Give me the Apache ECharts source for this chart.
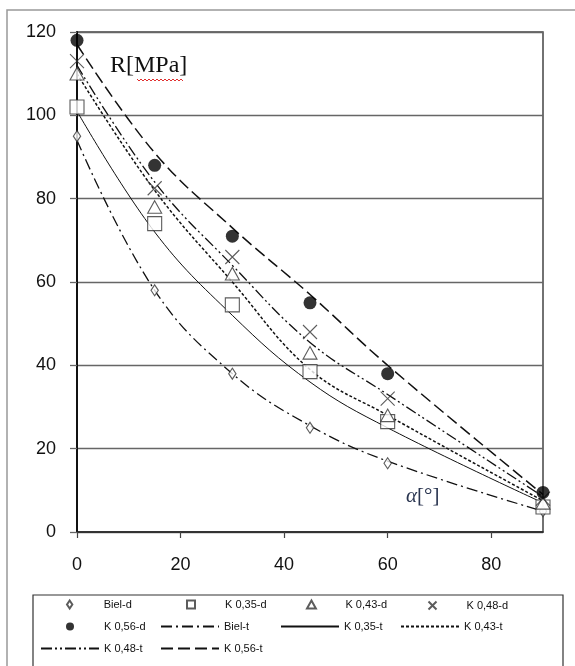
<!DOCTYPE html>
<html>
	<head>
		<meta charset="utf-8">
		<title>R - alpha</title>
		<style type="text/css">
			* {
				margin: 0;
				padding: 0;
			}

			html,
			body {
				width: 100%;
				height: 100%;
				background: #fff;
			}

			#box1 {
				width: 575px;
				height: 666px;
			}
		</style>
	</head>
	<body>
		<div id="box1"></div>
		<script type="text/javascript" src="https://cdn.jsdelivr.net/npm/echarts@6/dist/echarts.min.js"></script>
		<script type="text/javascript">
			// angle alpha [deg]
			var angles = [0, 15, 30, 45, 60, 90]
			var xTicks = [0, 20, 40, 60, 80]

			// measured (d)
			var bielD = [95, 58, 38, 25, 16.5, 5]
			var k35D = [102, 74, 54.5, 38.5, 26.5, 6]
			var k43D = [110, 78, 62, 43, 28, 7]
			var k48D = [113, 82.5, 66, 48, 32, 8]
			var k56D = [118, 88, 71, 55, 38, 9.5]

			// theory (t)
			var bielT = [94, 58, 38, 25.5, 17, 5]
			var k35T = [101, 72, 52, 36, 25, 7]
			var k43T = [110, 82, 60, 39, 28, 7.5]
			var k48T = [112, 84, 64, 45.5, 33, 8.5]
			var k56T = [117, 91, 73, 57, 40, 9]

			var legendNames = ['Biel-d', 'K 0,35-d', 'K 0,43-d', 'K 0,48-d', 'K 0,56-d',
				'Biel-t', 'K 0,35-t', 'K 0,43-t', 'K 0,48-t', 'K 0,56-t'
			]

			function pairs(arr) {
				let res = []
				for (let i = 0; i < angles.length; i++) {
					res.push([angles[i], arr[i]])
				}
				return res
			}

			var ink = '#111'
			var crossPath = 'path://M0,0L10,10M10,0L0,10'
			var diamondPath = 'path://M5,0L9,6L5,12L1,6Z'
			var squarePath = 'path://M0,0L10,0L10,10L0,10Z'
			var trianglePath = 'path://M5,0L10,9L0,9Z'
			var legendIcons = [diamondPath, squarePath, trianglePath, crossPath, 'circle']

			function pointSeries(name, arr, symbol, size, filled) {
				return {
					name: name,
					type: 'scatter',
					data: pairs(arr),
					symbol: symbol,
					symbolSize: size,
					symbolKeepAspect: true,
					itemStyle: {
						color: filled ? '#000' : (symbol == crossPath ? 'none' : '#fff'),
						borderColor: '#333',
						borderWidth: filled ? 0 : 1.1
					},
					z: 5
				}
			}

			function lineSeries(name, arr, dash, width) {
				return {
					name: name,
					type: 'line',
					data: pairs(arr),
					symbol: 'none',
					smooth: 0.4,
					lineStyle: {
						color: ink,
						width: width,
						type: dash
					},
					itemStyle: {
						color: ink
					},
					z: 3
				}
			}

			// one legend per entry, laid out as 4 columns like the original
			function getlegends() {
				let res = []
				for (let i = 0; i < legendNames.length; i++) {
					let item = {
						name: legendNames[i]
					}
					let shift = 0
					if (i < legendIcons.length) {
						item.icon = legendIcons[i]
						// symbol icons are drawn at the left, push them to the column middle
						shift = 26
					} else {
						item.itemStyle = {
							opacity: 0
						}
					}
					res.push({
						left: 40 + (i % 4) * 120 + shift,
						top: 599 + Math.floor(i / 4) * 22,
						itemWidth: 58,
						itemHeight: 8,
						padding: 0,
						selectedMode: false,
						symbolKeepAspect: true,
						textStyle: {
							fontFamily: 'Liberation Sans',
							fontSize: 11,
							color: '#111'
						},
						data: [item]
					})
				}
				return res
			}

			window.onload = function() {
				charts1()
			}

			function charts1() {
				var myChart1 = echarts.init(document.getElementById('box1'));
				var option1 = {
					backgroundColor: '#fff',
					animation: false,
					textStyle: {
						fontFamily: 'Liberation Sans'
					},
					grid: {
						left: 77,
						right: 32,
						top: 32,
						bottom: 134,
						show: true,
						borderColor: '#444',
						borderWidth: 1.5
					},
					legend: getlegends(),
					xAxis: {
						type: 'value',
						min: 0,
						max: 90,
						interval: 20,
						splitLine: {
							show: false
						},
						axisLine: {
							lineStyle: {
								color: '#222',
								width: 1.5
							}
						},
						axisTick: {
							length: 6,
							customValues: xTicks,
							lineStyle: {
								color: '#444',
								width: 1.2
							}
						},
						axisLabel: {
							customValues: xTicks,
							margin: 24,
							fontSize: 18,
							color: '#111'
						}
					},
					yAxis: {
						type: 'value',
						min: 0,
						max: 120,
						interval: 20,
						splitLine: {
							lineStyle: {
								color: '#666',
								width: 1.3
							}
						},
						axisLine: {
							show: true,
							lineStyle: {
								color: '#111',
								width: 2
							}
						},
						axisTick: {
							show: true,
							length: 7,
							lineStyle: {
								color: '#666',
								width: 1.3
							}
						},
						axisLabel: {
							margin: 21,
							fontSize: 18,
							color: '#111'
						}
					},
					graphic: [{
							type: 'rect',
							shape: {
								x: 7,
								y: 10,
								width: 620,
								height: 700
							},
							style: {
								fill: 'none',
								stroke: '#999',
								lineWidth: 1.5
							},
							z: -10
						},
						{
							type: 'rect',
							shape: {
								x: 33,
								y: 595,
								width: 530,
								height: 100
							},
							style: {
								fill: 'none',
								stroke: '#333',
								lineWidth: 1.2
							},
							z: -10
						},
						{
							type: 'text',
							left: 110,
							top: 54,
							style: {
								text: 'R[MPa]',
								font: '24px "Liberation Serif"',
								fill: '#111'
							}
						},
						{
							type: 'polyline',
							shape: {
								points: [[137, 79], [139, 81], [141, 79], [143, 81], [145, 79], [147, 81], [149, 79],
									[151, 81], [153, 79], [155, 81], [157, 79], [159, 81], [161, 79], [163, 81],
									[165, 79], [167, 81], [169, 79], [171, 81], [173, 79], [175, 81], [177, 79],
									[179, 81], [181, 79], [183, 81]
								]
							},
							style: {
								stroke: '#e03030',
								lineWidth: 1,
								fill: 'none'
							}
						},
						{
							type: 'text',
							left: 406,
							top: 486,
							style: {
								text: '{a|α}[°]',
								font: '21px "Liberation Serif"',
								fill: '#2a3550',
								rich: {
									a: {
										fontStyle: 'italic',
										fontFamily: 'Liberation Serif',
										fontSize: 21,
										color: '#2a3550'
									}
								}
							}
						}
					],
					series: [
						pointSeries('Biel-d', bielD, diamondPath, 11, false),
						pointSeries('K 0,35-d', k35D, squarePath, 14, false),
						pointSeries('K 0,43-d', k43D, trianglePath, 14, false),
						pointSeries('K 0,48-d', k48D, crossPath, 14, false),
						pointSeries('K 0,56-d', k56D, 'circle', 13, true),
						lineSeries('Biel-t', bielT, [11, 4, 2, 4], 1.3),
						lineSeries('K 0,35-t', k35T, 'solid', 1),
						lineSeries('K 0,43-t', k43T, [3, 2], 1.5),
						lineSeries('K 0,48-t', k48T, [11, 3, 2, 3, 2, 3], 1.3),
						lineSeries('K 0,56-t', k56T, [12, 5], 1.5)
					]
				};
				myChart1.setOption(option1);
			}
		</script>
	</body>
</html>
